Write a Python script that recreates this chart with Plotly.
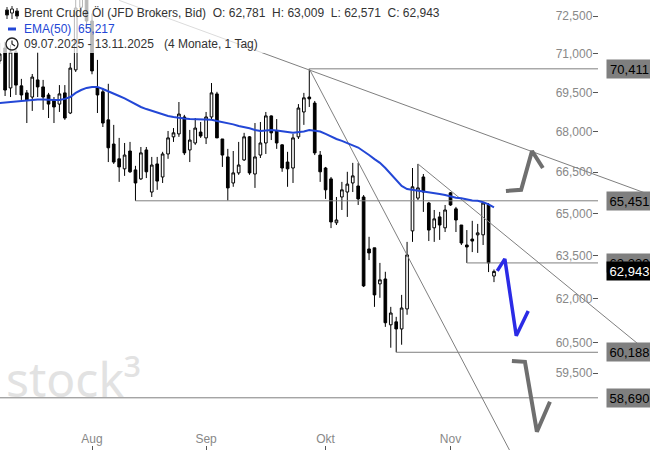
import math
import pandas as pd
import plotly.graph_objects as go

# Brent Crude Öl (JFD Brokers, Bid), Tageskerzen 09.07.2025 - 13.11.2025
dates = pd.bdate_range("2025-07-09", "2025-11-13")

opens = [70.72, 71.23, 69.67, 71.07, 69.75, 69.48, 69.32, 69.98, 69.71, 69.40,
         69.21, 69.05, 69.48, 68.71, 70.37, 72.85, 73.40, 72.30, 69.67, 69.52,
         68.45, 67.54, 66.99, 66.62, 67.28, 66.58, 66.25, 67.32, 65.77, 66.80,
         66.32, 67.17, 67.81, 67.92, 68.56, 67.32, 67.58, 67.99, 67.77, 68.56,
         69.44, 67.73, 67.06, 66.10, 66.47, 66.95, 67.81, 66.43, 67.13, 67.58,
         68.60, 68.03, 67.51, 66.87, 66.65, 67.81, 68.75, 69.32, 69.09, 67.13,
         66.65, 66.25, 64.66, 65.59, 65.77, 66.10, 65.99, 65.59, 63.73, 63.77,
         62.51, 62.68, 61.11, 61.21, 60.97, 61.65, 64.37, 65.55, 66.32, 65.37,
         64.48, 64.87, 64.48, 65.74, 65.16, 64.58, 63.87, 64.08, 64.23, 64.23,
         65.30, 62.781]
highs = [71.43, 71.47, 71.35, 71.23, 70.02, 69.59, 70.21, 71.07, 69.98, 69.48,
         69.32, 69.78, 69.78, 70.64, 73.27, 74.00, 73.80, 72.60, 70.76, 69.67,
         69.83, 68.26, 67.77, 67.58, 67.62, 66.73, 67.43, 67.43, 67.06, 67.06,
         67.25, 68.03, 68.14, 69.13, 68.64, 68.07, 68.52, 68.37, 68.75, 69.86,
         69.52, 67.73, 67.36, 67.28, 67.62, 67.96, 67.84, 68.33, 68.37, 68.75,
         68.62, 68.48, 67.53, 67.25, 67.92, 69.05, 69.48, 70.411, 69.17, 67.28,
         66.69, 66.32, 65.59, 66.14, 66.51, 66.84, 66.84, 65.66, 64.16, 63.77,
         63.24, 62.93, 61.72, 61.38, 62.13, 63.98, 66.65, 66.80, 66.43, 65.41,
         65.12, 65.05, 65.30, 65.77, 65.23, 64.58, 64.40, 64.73, 64.62, 65.41,
         65.37, 63.009]
lows = [70.60, 69.36, 69.32, 69.40, 69.21, 68.33, 68.79, 69.32, 68.83, 68.52,
        68.33, 68.75, 68.45, 68.67, 70.29, 72.70, 72.00, 70.20, 68.71, 68.18,
        66.87, 66.80, 66.14, 66.36, 66.47, 65.451, 66.21, 66.28, 65.59, 65.85,
        66.10, 66.99, 67.62, 67.81, 67.13, 66.87, 67.51, 67.77, 67.54, 68.45,
        67.77, 66.69, 65.46, 65.96, 66.40, 66.91, 66.40, 65.92, 67.02, 67.17,
        67.69, 67.36, 66.51, 65.96, 66.10, 67.73, 68.26, 68.94, 67.13, 66.14,
        65.52, 64.47, 64.58, 65.12, 64.87, 65.77, 65.30, 62.40, 63.34, 61.72,
        62.03, 61.04, 60.34, 60.188, 60.44, 61.45, 63.98, 65.48, 65.05, 64.01,
        63.98, 64.05, 64.33, 65.27, 64.33, 63.87, 63.24, 63.62, 63.59, 63.87,
        62.92, 62.571]
closes = [70.99, 69.59, 71.07, 69.78, 69.40, 69.21, 70.09, 69.71, 69.32, 69.05,
          68.94, 69.44, 68.52, 70.44, 72.82, 73.50, 72.30, 70.33, 69.40, 68.33,
          67.40, 66.87, 66.69, 67.13, 66.51, 66.10, 67.21, 66.51, 66.76, 66.17,
          67.17, 67.77, 67.96, 68.67, 67.21, 67.69, 68.14, 67.84, 68.56, 69.48,
          67.77, 67.13, 65.92, 66.47, 66.76, 67.81, 66.47, 67.06, 67.58, 68.60,
          67.96, 67.58, 66.65, 66.62, 67.77, 68.90, 69.29, 69.25, 67.21, 66.51,
          65.85, 64.69, 64.76, 65.85, 66.06, 66.36, 65.52, 62.44, 63.59, 62.13,
          62.65, 61.18, 61.51, 60.97, 61.68, 63.52, 65.96, 65.92, 65.77, 64.40,
          64.80, 64.58, 65.12, 65.30, 64.76, 63.94, 63.80, 64.01, 64.30, 65.37,
          63.24, 62.943]
ema50 = [69.09, 69.11, 69.13, 69.17, 69.19, 69.21, 69.23, 69.23, 69.23, 69.21,
         69.21, 69.21, 69.25, 69.32, 69.48, 69.59, 69.67, 69.71, 69.71, 69.63,
         69.55, 69.46, 69.36, 69.27, 69.15, 69.04, 68.94, 68.86, 68.79, 68.71,
         68.66, 68.60, 68.56, 68.52, 68.50, 68.48, 68.47, 68.45, 68.45, 68.45,
         68.41, 68.37, 68.33, 68.28, 68.22, 68.18, 68.13, 68.07, 68.03, 68.05,
         68.07, 68.05, 68.03, 67.99, 67.96, 67.98, 68.01, 68.07, 68.05, 68.01,
         67.92, 67.82, 67.73, 67.66, 67.56, 67.49, 67.41, 67.28, 67.13, 66.98,
         66.84, 66.65, 66.43, 66.17, 65.99, 65.88, 65.85, 65.83, 65.81, 65.77,
         65.74, 65.70, 65.66, 65.61, 65.56, 65.54, 65.50, 65.46, 65.45, 65.40,
         65.32, 65.217]

# horizontale Marken: Kurs, Startkerze, Label-Text
levels = [70.411, 65.451, 63.239, 60.188, 58.690]
level_start = [57, 25, 86, 73, -2]
level_text = ["70,411", "65,451", "63,239", "60,188", "58,690"]

# Trendlinien (Kerzenindex, Kurs)
trend_a = ([22, 120], [73.13, 65.65])
trend_b = ([57, 96], [70.411, 56.32])
trend_c = ([77, 120], [66.80, 60.10])

# Szenario-Pfeile (Kerzenindex, Kurs)
arrow_up = ([93.2, 96.0, 98.0, 100.0], [65.81, 65.85, 67.28, 66.65])
arrow_blue = ([91.6, 93.0, 95.1, 97.3], [62.96, 63.38, 60.74, 61.58])
arrow_down = ([94.3, 96.7, 98.9, 101.3], [59.90, 59.87, 57.60, 58.56])

y_ticks = [57.5, 59.5, 60.5, 62.0, 63.5, 65.0, 66.5, 68.0, 69.5, 71.0, 72.5]
y_ticktext = [f"{v:.3f}".replace(".", ",") for v in y_ticks]

last_price = closes[-1]

W, H = 650, 450
Y_LO, Y_HI = math.log10(57.019), math.log10(73.145)
X_LO, X_HI = 0.063, 119.72
AXIS_X = 598  # Pixel-Position der Kursachse
LOG_PER_PX = (Y_HI - Y_LO) / H

x = list(range(len(dates)))
month_idx, month_txt = [], []
names = {8: "Aug", 9: "Sep", 10: "Okt", 11: "Nov"}
for i, d in enumerate(dates):
    if i > 0 and d.month != dates[i - 1].month:
        month_idx.append(i)
        month_txt.append(names[d.month])

GRAY = "#7f7f7f"
FONT = "Liberation Sans, Arial, sans-serif"


def px(v):
    return v / W


def py(v):
    return 1 - v / H


fig = go.Figure()

# Marken-Linien
x_axis_end = (AXIS_X / W) * (X_HI - X_LO) + X_LO
for lvl, st in zip(levels, level_start):
    xa = st if st >= 0 else X_LO - 1
    fig.add_trace(go.Scatter(x=[xa, x_axis_end], y=[lvl, lvl],
                             mode="lines", line=dict(color=GRAY, width=1),
                             hoverinfo="skip", showlegend=False))
for tx, ty in (trend_a, trend_b, trend_c):
    fig.add_trace(go.Scatter(x=tx, y=ty, mode="lines", line=dict(color=GRAY, width=1),
                             hoverinfo="skip", showlegend=False))

fig.add_trace(go.Candlestick(
    x=x, open=opens, high=highs, low=lows, close=closes,
    increasing=dict(line=dict(color="black", width=1), fillcolor="white"),
    decreasing=dict(line=dict(color="black", width=1), fillcolor="black"),
    whiskerwidth=0, hoverinfo="skip", showlegend=False))

fig.add_trace(go.Scatter(x=x, y=ema50, mode="lines", line=dict(color="#2347d6", width=2),
                         hoverinfo="skip", showlegend=False))

for (ax_, ay_), col, wd in ((arrow_up, "#6f6f6f", 4), (arrow_down, "#6f6f6f", 4),
                            (arrow_blue, "#2b2be6", 3.5)):
    fig.add_trace(go.Scatter(x=ax_, y=ay_, mode="lines",
                             line=dict(color=col, width=wd, shape="linear"),
                             hoverinfo="skip", showlegend=False))

shapes = []
annotations = []

# Kurs-Labels rechts
d = 9 * LOG_PER_PX
label_specs = list(zip(levels, level_text, [GRAY] * len(levels), ["black"] * len(levels)))
label_specs.insert(3, (last_price, "62,943", "black", "white"))
for lvl, txt, bg, fg in label_specs:
    ly = math.log10(lvl)
    shapes.append(dict(type="path", xref="paper", yref="y", layer="above",
                       path=f"M {px(AXIS_X)},{ly} L {px(606)},{ly + d} L {px(606)},{ly - d} Z",
                       fillcolor=bg, line=dict(width=0)))
    annotations.append(dict(xref="paper", yref="y", x=px(605.5), y=ly, xanchor="left",
                            yanchor="middle", text=txt, showarrow=False, width=45,
                            height=18, borderpad=0, bgcolor=bg,
                            font=dict(family=FONT, size=13, color=fg)))

# halbtransparenter Hintergrund der Legende
shapes.append(dict(type="rect", xref="paper", yref="paper", layer="above",
                   x0=0, x1=px(452), y0=py(0), y1=py(53),
                   fillcolor="rgba(255,255,255,0.72)", line=dict(width=0)))

# Kerzen-Icon
for cx, top, bot, b0, b1, fill in ((7, 7, 19, 10, 15, "black"), (12, 6, 19, 9, 13, "white"),
                                   (17, 8, 19, 11, 16, "black")):
    shapes.append(dict(type="line", xref="paper", yref="paper", layer="above",
                       x0=px(cx), x1=px(cx), y0=py(top), y1=py(bot),
                       line=dict(color="#222", width=1)))
    shapes.append(dict(type="rect", xref="paper", yref="paper", layer="above",
                       x0=px(cx - 1.5), x1=px(cx + 1.5), y0=py(b0), y1=py(b1),
                       fillcolor=fill, line=dict(color="#222", width=1)))
# EMA-Icon
shapes.append(dict(type="rect", xref="paper", yref="paper", layer="above",
                   x0=px(8), x1=px(16), y0=py(27.5), y1=py(30.5),
                   fillcolor="#2347d6", line=dict(width=0)))
# Uhr-Icon
shapes.append(dict(type="circle", xref="paper", yref="paper", layer="above",
                   x0=px(6), x1=px(18), y0=py(38), y1=py(50),
                   line=dict(color="#222", width=1.3)))
shapes.append(dict(type="path", xref="paper", yref="paper", layer="above",
                   path=f"M {px(12)},{py(40.5)} L {px(12)},{py(44)} L {px(15)},{py(46)}",
                   line=dict(color="#222", width=1.2)))

sp = "\u00a0"
annotations += [
    dict(xref="paper", yref="paper", x=px(22), y=py(13), xanchor="left", yanchor="middle",
         text=f"Brent Crude Öl (JFD Brokers, Bid){sp*2}O: 62,781{sp*2}H: 63,009{sp*2}"
              f"L: 62,571{sp*2}C: 62,943",
         showarrow=False, font=dict(family=FONT, size=12, color="#333")),
    dict(xref="paper", yref="paper", x=px(22), y=py(29), xanchor="left", yanchor="middle",
         text=f"EMA(50){sp*2}65,217", showarrow=False,
         font=dict(family=FONT, size=12, color="#2347d6")),
    dict(xref="paper", yref="paper", x=px(22), y=py(44), xanchor="left", yanchor="middle",
         text=f"09.07.2025 - 13.11.2025{sp*3}(4 Monate, 1 Tag)", showarrow=False,
         font=dict(family=FONT, size=12, color="#333")),
    dict(xref="paper", yref="paper", x=px(4), y=py(378), xanchor="left", yanchor="middle",
         text="stock³", showarrow=False,
         font=dict(family="Noto Sans, sans-serif", size=48, color="#e2e2e2")),
]

fig.update_layout(
    width=W, height=H,
    margin=dict(l=0, r=0, t=0, b=0, autoexpand=False),
    paper_bgcolor="white", plot_bgcolor="white",
    showlegend=False,
    shapes=shapes, annotations=annotations,
    xaxis=dict(range=[X_LO, X_HI], domain=[0, 1], tickvals=month_idx, ticktext=month_txt,
               ticks="inside", ticklen=4, tickcolor="#555", ticklabelposition="inside",
               tickfont=dict(family=FONT, size=12, color="#888"),
               showgrid=False, zeroline=False, showline=False,
               rangeslider=dict(visible=False), automargin=False),
    yaxis=dict(type="log", range=[Y_LO, Y_HI], side="right", anchor="free",
               position=AXIS_X / W, tickvals=y_ticks, ticktext=y_ticktext,
               ticks="inside", ticklen=5, tickcolor="#555", ticklabelposition="inside",
               tickfont=dict(family=FONT, size=12, color="#888"),
               showgrid=False, zeroline=False, showline=False, automargin=False),
)

# Seitenrand des Browsers entfernen, damit der Plot bei (0,0) beginnt
fig.write_html("out.html", config={"displayModeBar": False},
               post_script="document.body.style.margin='0';")
